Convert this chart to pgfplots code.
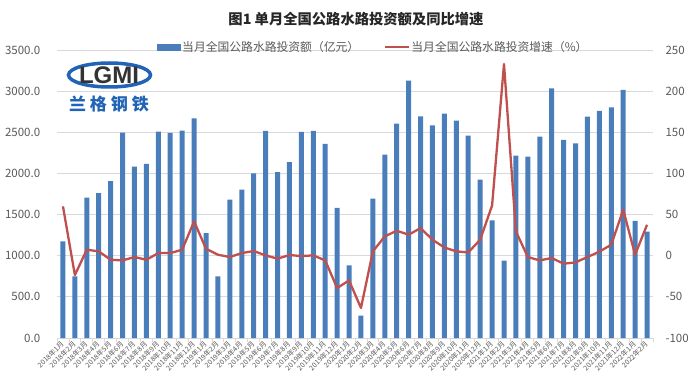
\documentclass[border=0pt]{standalone}
\usepackage{pgfplots}
\usepackage{pgfplotstable}
\pgfplotsset{compat=1.18}
\usepackage{fontspec}
\setmainfont{Noto Sans CJK SC}
\newfontfamily\logofont{Liberation Sans}
\definecolor{barblue}{HTML}{4A7EBB}
\definecolor{linered}{HTML}{C0504D}
\definecolor{txtgray}{HTML}{595959}
\definecolor{gridgray}{HTML}{D9D9D9}
\definecolor{logoblue}{HTML}{2163B5}

\pgfplotstableread{
x inv g
0 1173 60
1 748 -23.5
2 1707 7.3
3 1760 5.3
4 1905 -4.9
5 2496 -5.7
6 2083 -1.6
7 2116 -4.9
8 2508 3.2
9 2492 3.2
10 2520 7.3
11 2670 41.7
12 1274 8.5
13 748 1.2
14 1683 -1.6
15 1804 3.2
16 2002 5.7
17 2516 0.4
18 2015 -3.6
19 2136 0.8
20 2504 -0.4
21 2516 0.4
22 2358 -5.7
23 1582 -39.3
24 882 -30
25 271 -63.5
26 1695 5.3
27 2229 23.5
28 2605 30.4
29 3127 25.5
30 2694 33.6
31 2585 19.4
32 2727 10
33 2642 5.3
34 2460 4
35 1926 19.4
36 1428 61
37 939 233
38 2217 29.5
39 2205 -1.6
40 2447 -5.7
41 3034 -2.8
42 2407 -9.7
43 2366 -8.1
44 2690 -1.6
45 2759 4.9
46 2803 13.4
47 3014 55.8
48 1424 1.2
49 1294 37.6
}\datatable

\begin{document}
\begin{tikzpicture}[x=1pt,y=1pt]
\path[use as bounding box] (0,0) rectangle (698,389);
\node[font=\bfseries\fontsize{14.3}{16}\selectfont, text=black!85] at (356,370) {图1 单月全国公路水路投资额及同比增速};
\begin{axis}[
  at={(57pt,51pt)}, anchor=south west, scale only axis,
  width=596pt, height=288pt,
  xmin=-0.5, xmax=49.5, ymin=0, ymax=3500,
  ytick={0,500,...,3500},
  axis y line*=left, axis x line*=bottom,
  y axis line style={draw=none},
  x axis line style={gridgray, line width=0.8pt, -},
  ymajorgrids, grid style={gridgray, line width=0.8pt},
  xtick={0,...,49},
  xticklabels={2018年1月,2018年2月,2018年3月,2018年4月,2018年5月,2018年6月,2018年7月,2018年8月,2018年9月,2018年10月,2018年11月,2018年12月,2019年1月,2019年2月,2019年3月,2019年4月,2019年5月,2019年6月,2019年7月,2019年8月,2019年9月,2019年10月,2019年11月,2019年12月,2020年1月,2020年2月,2020年3月,2020年4月,2020年5月,2020年6月,2020年7月,2020年8月,2020年9月,2020年10月,2020年11月,2020年12月,2021年1月,2021年2月,2021年3月,2021年4月,2021年5月,2021年6月,2021年7月,2021年8月,2021年9月,2021年10月,2021年11月,2021年12月,2022年1月,2022年2月},
  xticklabel style={rotate=45, anchor=east, font=\fontsize{7}{7}\selectfont, text=txtgray, inner sep=0.5pt},
  major x tick style={draw=none},
  minor xtick={-0.5,0.5,...,49.5},
  minor x tick style={gridgray, line width=0.8pt},
  minor tick length=4pt, tick align=outside,
  y tick style={draw=none},
  yticklabel style={font=\fontsize{11.5}{12}\selectfont, text=txtgray, xshift=-9pt,
    /pgf/number format/fixed, /pgf/number format/fixed zerofill,
    /pgf/number format/precision=1, /pgf/number format/1000 sep={},
    /pgf/number format/assume math mode=true},
  legend style={at={(0.530,1.010)}, anchor=center, draw=none, fill=none,
    font=\fontsize{11.8}{13}\selectfont, text=txtgray,
    nodes={inner sep=1pt},
    /tikz/every even column/.append style={column sep=24pt}},
  legend columns=2,
]
\addplot[ybar, bar width=5pt, fill=barblue, draw=none,
  legend image code/.code={\fill[barblue] (0pt,-3.5pt) rectangle (24pt,3pt);}]
  table[x=x,y=inv]{\datatable};
\addlegendentry{当月全国公路水路投资额（亿元）}
\addlegendimage{legend image code/.code={\draw[linered, line width=2.2pt] (0pt,0pt) -- (24pt,0pt);}}
\addlegendentry{当月全国公路水路投资增速（\%）}
\end{axis}
\begin{axis}[
  at={(57pt,51pt)}, anchor=south west, scale only axis,
  width=596pt, height=288pt,
  xmin=-0.5, xmax=49.5, ymin=-100, ymax=250,
  ytick={-100,-50,...,250},
  axis y line*=right, axis x line=none,
  y axis line style={draw=none},
  y tick style={draw=none},
  yticklabel style={font=\fontsize{11.5}{12}\selectfont, text=txtgray, xshift=9pt,
    /pgf/number format/assume math mode=true},
]
\addplot[linered, line width=2.3pt, line join=round, mark=none]
  table[x=x,y=g]{\datatable};
\end{axis}
% logo watermark
\draw[logoblue, line width=3.5pt] (109.5,314) ellipse [x radius=41, y radius=12];
\node[font=\logofont\bfseries\fontsize{24}{24}\selectfont, text=black!80, inner sep=0pt] at (109,314) {LGMI};
\node[font=\bfseries\fontsize{17}{17}\selectfont, text=logoblue, inner sep=0pt] at (109,285) {兰\hspace{4pt}格\hspace{4pt}钢\hspace{4pt}铁};
\end{tikzpicture}
\end{document}
